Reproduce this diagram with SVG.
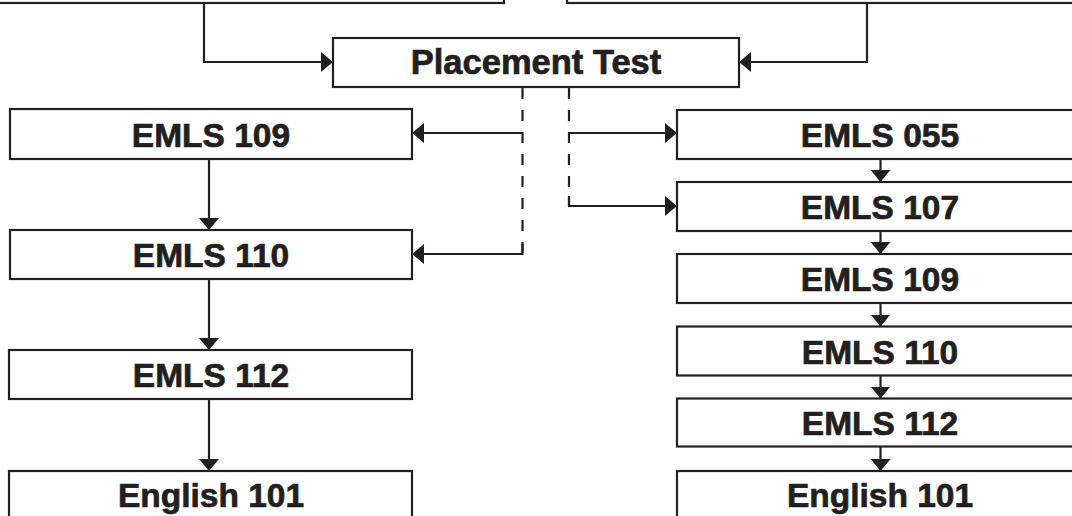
<svg xmlns="http://www.w3.org/2000/svg" width="1072" height="516" viewBox="0 0 1072 516">
<style>
.box{fill:#fff;stroke:#231f20;stroke-width:2.2}
.lbl{font-family:"Liberation Sans",Arial,sans-serif;font-weight:bold;font-size:33.5px;fill:#231f20;stroke:#231f20;stroke-width:0.7;text-anchor:middle}
.ln{fill:none;stroke:#231f20;stroke-width:2.2}
.dash{stroke-dasharray:11 11;stroke-dashoffset:-1}
</style>
<defs>
<marker id="ah" markerUnits="userSpaceOnUse" markerWidth="12" markerHeight="20" viewBox="0 0 12 20" refX="12" refY="10" orient="auto">
<path d="M0,0 L12,10 L0,20 z" fill="#231f20"/>
</marker>
</defs>
<g id="connectors">
<path class="ln" d="M204 3 V62 H333" marker-end="url(#ah)"/>
<path class="ln" d="M867 3 V62 H739" marker-end="url(#ah)"/>
<path class="ln dash" d="M522.5 87 V254"/>
<path class="ln dash" d="M569 87 V206"/>
<path class="ln" d="M522.5 133 H412" marker-end="url(#ah)"/>
<path class="ln" d="M522.5 244 V254 H412" marker-end="url(#ah)"/>
<path class="ln" d="M569 133 H677" marker-end="url(#ah)"/>
<path class="ln" d="M569 196 V206 H677" marker-end="url(#ah)"/>
<path class="ln" d="M209 159 V230" marker-end="url(#ah)"/>
<path class="ln" d="M209 279 V350" marker-end="url(#ah)"/>
<path class="ln" d="M209 399 V471" marker-end="url(#ah)"/>
<path class="ln" d="M880.5 159 V182" marker-end="url(#ah)"/>
<path class="ln" d="M880.5 231 V254" marker-end="url(#ah)"/>
<path class="ln" d="M880.5 303 V326.5" marker-end="url(#ah)"/>
<path class="ln" d="M880.5 375.5 V398.5" marker-end="url(#ah)"/>
<path class="ln" d="M880.5 446.5 V471" marker-end="url(#ah)"/>
</g>
<g id="top-left"><rect class="box" x="-10" y="-50" width="514" height="53"/></g>
<g id="top-right"><rect class="box" x="567" y="-50" width="520" height="53"/></g>
<g id="placement"><rect class="box" x="333" y="38" width="406" height="49"/><text class="lbl" x="536" y="74" style="font-size:34.5px">Placement Test</text></g>
<g id="l109"><rect class="box" x="10" y="109" width="402" height="50"/><text class="lbl" x="211" y="146.5">EMLS 109</text></g>
<g id="l110"><rect class="box" x="10" y="230" width="402" height="49"/><text class="lbl" x="211" y="267">EMLS 110</text></g>
<g id="l112"><rect class="box" x="9" y="350" width="403" height="49"/><text class="lbl" x="211" y="387.3">EMLS 112</text></g>
<g id="l101"><rect class="box" x="9" y="471" width="403" height="60"/><text class="lbl" x="211" y="506.7">English 101</text></g>
<g id="r055"><rect class="box" x="677" y="110" width="406" height="49"/><text class="lbl" x="880" y="147">EMLS 055</text></g>
<g id="r107"><rect class="box" x="677" y="182" width="406" height="49"/><text class="lbl" x="880" y="219.3">EMLS 107</text></g>
<g id="r109"><rect class="box" x="677" y="254" width="406" height="49"/><text class="lbl" x="880" y="291.3">EMLS 109</text></g>
<g id="r110"><rect class="box" x="677" y="326.5" width="406" height="49"/><text class="lbl" x="880" y="363.8">EMLS 110</text></g>
<g id="r112"><rect class="box" x="677" y="398.5" width="406" height="48"/><text class="lbl" x="880" y="435.3">EMLS 112</text></g>
<g id="r101"><rect class="box" x="677" y="471" width="406" height="60"/><text class="lbl" x="880" y="506.7">English 101</text></g>
</svg>
